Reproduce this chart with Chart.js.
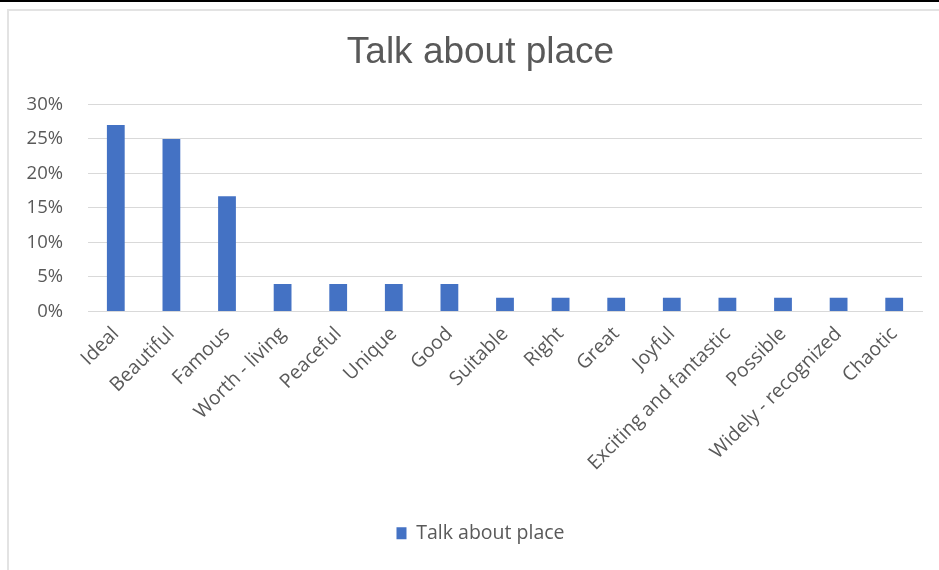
<!DOCTYPE html>
<html>
<head>
<meta charset="utf-8">
<script src="https://cdn.jsdelivr.net/npm/chart.js@4/dist/chart.umd.min.js"></script>
<style>
  html, body { margin: 0; padding: 0; background: #fff; overflow: hidden; }
  #topbar { position: absolute; left: 0; top: 0; width: 939px; height: 2px; background: #000; }
  #frame { position: absolute; left: 7px; top: 9px; width: 960px; height: 600px;
           border-top: 2px solid #e3e3e3; border-left: 2px solid #e3e3e3; }
  #wrap { position: absolute; left: 0; top: 0; width: 961px; height: 570px; }
</style>
</head>
<body>
<div id="topbar"></div>
<div id="frame"></div>
<div id="wrap"><canvas id="chart"></canvas></div>
<script>
  // values (percent of mentions)
  const categories = [
    "Ideal", "Beautiful", "Famous", "Worth - living", "Peaceful", "Unique", "Good",
    "Suitable", "Right", "Great", "Joyful", "Exciting and fantastic", "Possible",
    "Widely - recognized", "Chaotic"
  ];
  const shares = [27, 25, 16.7, 4, 4, 4, 4, 2, 2, 2, 2, 2, 2, 2, 2];
  const yTicks = [0, 5, 10, 15, 20, 25, 30];
  const seriesName = "Talk about place";

  const INK = "#595959";
  const GRID = "#d9d9d9";
  const BLUE = "#4472c4";
  const FONT = "'Open Sans', sans-serif";

  new Chart(document.getElementById("chart"), {
    type: "bar",
    data: {
      labels: categories,
      datasets: [{
        label: seriesName,
        data: shares,
        backgroundColor: BLUE,
        barPercentage: 0.32,
        categoryPercentage: 1,
      }],
    },
    options: {
      responsive: true, maintainAspectRatio: false, animation: false,
      layout: { padding: { left: 0, right: 0, top: 0, bottom: 17 } },
      scales: {
        x: {
          grid: { display: false, drawTicks: false },
          border: { color: GRID, width: 1 },
          ticks: { color: INK, font: { family: FONT, size: 19.5 }, minRotation: 45, maxRotation: 45, autoSkip: false, padding: 11 },
          afterFit: (s) => { s.height = 202; },
        },
        y: {
          min: 0, max: 30,
          grid: { color: GRID, drawTicks: false },
          border: { display: false },
          afterBuildTicks: (s) => { s.ticks = yTicks.map((v) => ({ value: v })); },
          ticks: { color: INK, font: { family: FONT, size: 18.5 }, padding: 25, callback: (v) => v + "%" },
          afterFit: (s) => { s.width = 88; },
        },
        // empty right-hand gutter so the plot ends where the reference does
        gutter: {
          position: "right", display: true,
          grid: { display: false, drawTicks: false },
          border: { display: false },
          ticks: { display: false },
          afterFit: (s) => { s.width = 39; },
        },
      },
      plugins: {
        title: {
          display: true, text: seriesName, color: INK,
          font: { family: "'Liberation Sans', Arial, sans-serif", size: 37, weight: "normal" },
          padding: { top: 31, bottom: 29 },
        },
        legend: {
          position: "bottom",
          labels: { color: INK, font: { family: FONT, size: 19.5 }, boxWidth: 10, boxHeight: 12, padding: 10 },
        },
        tooltip: { enabled: false },
      },
    },
  });
</script>
</body>
</html>
